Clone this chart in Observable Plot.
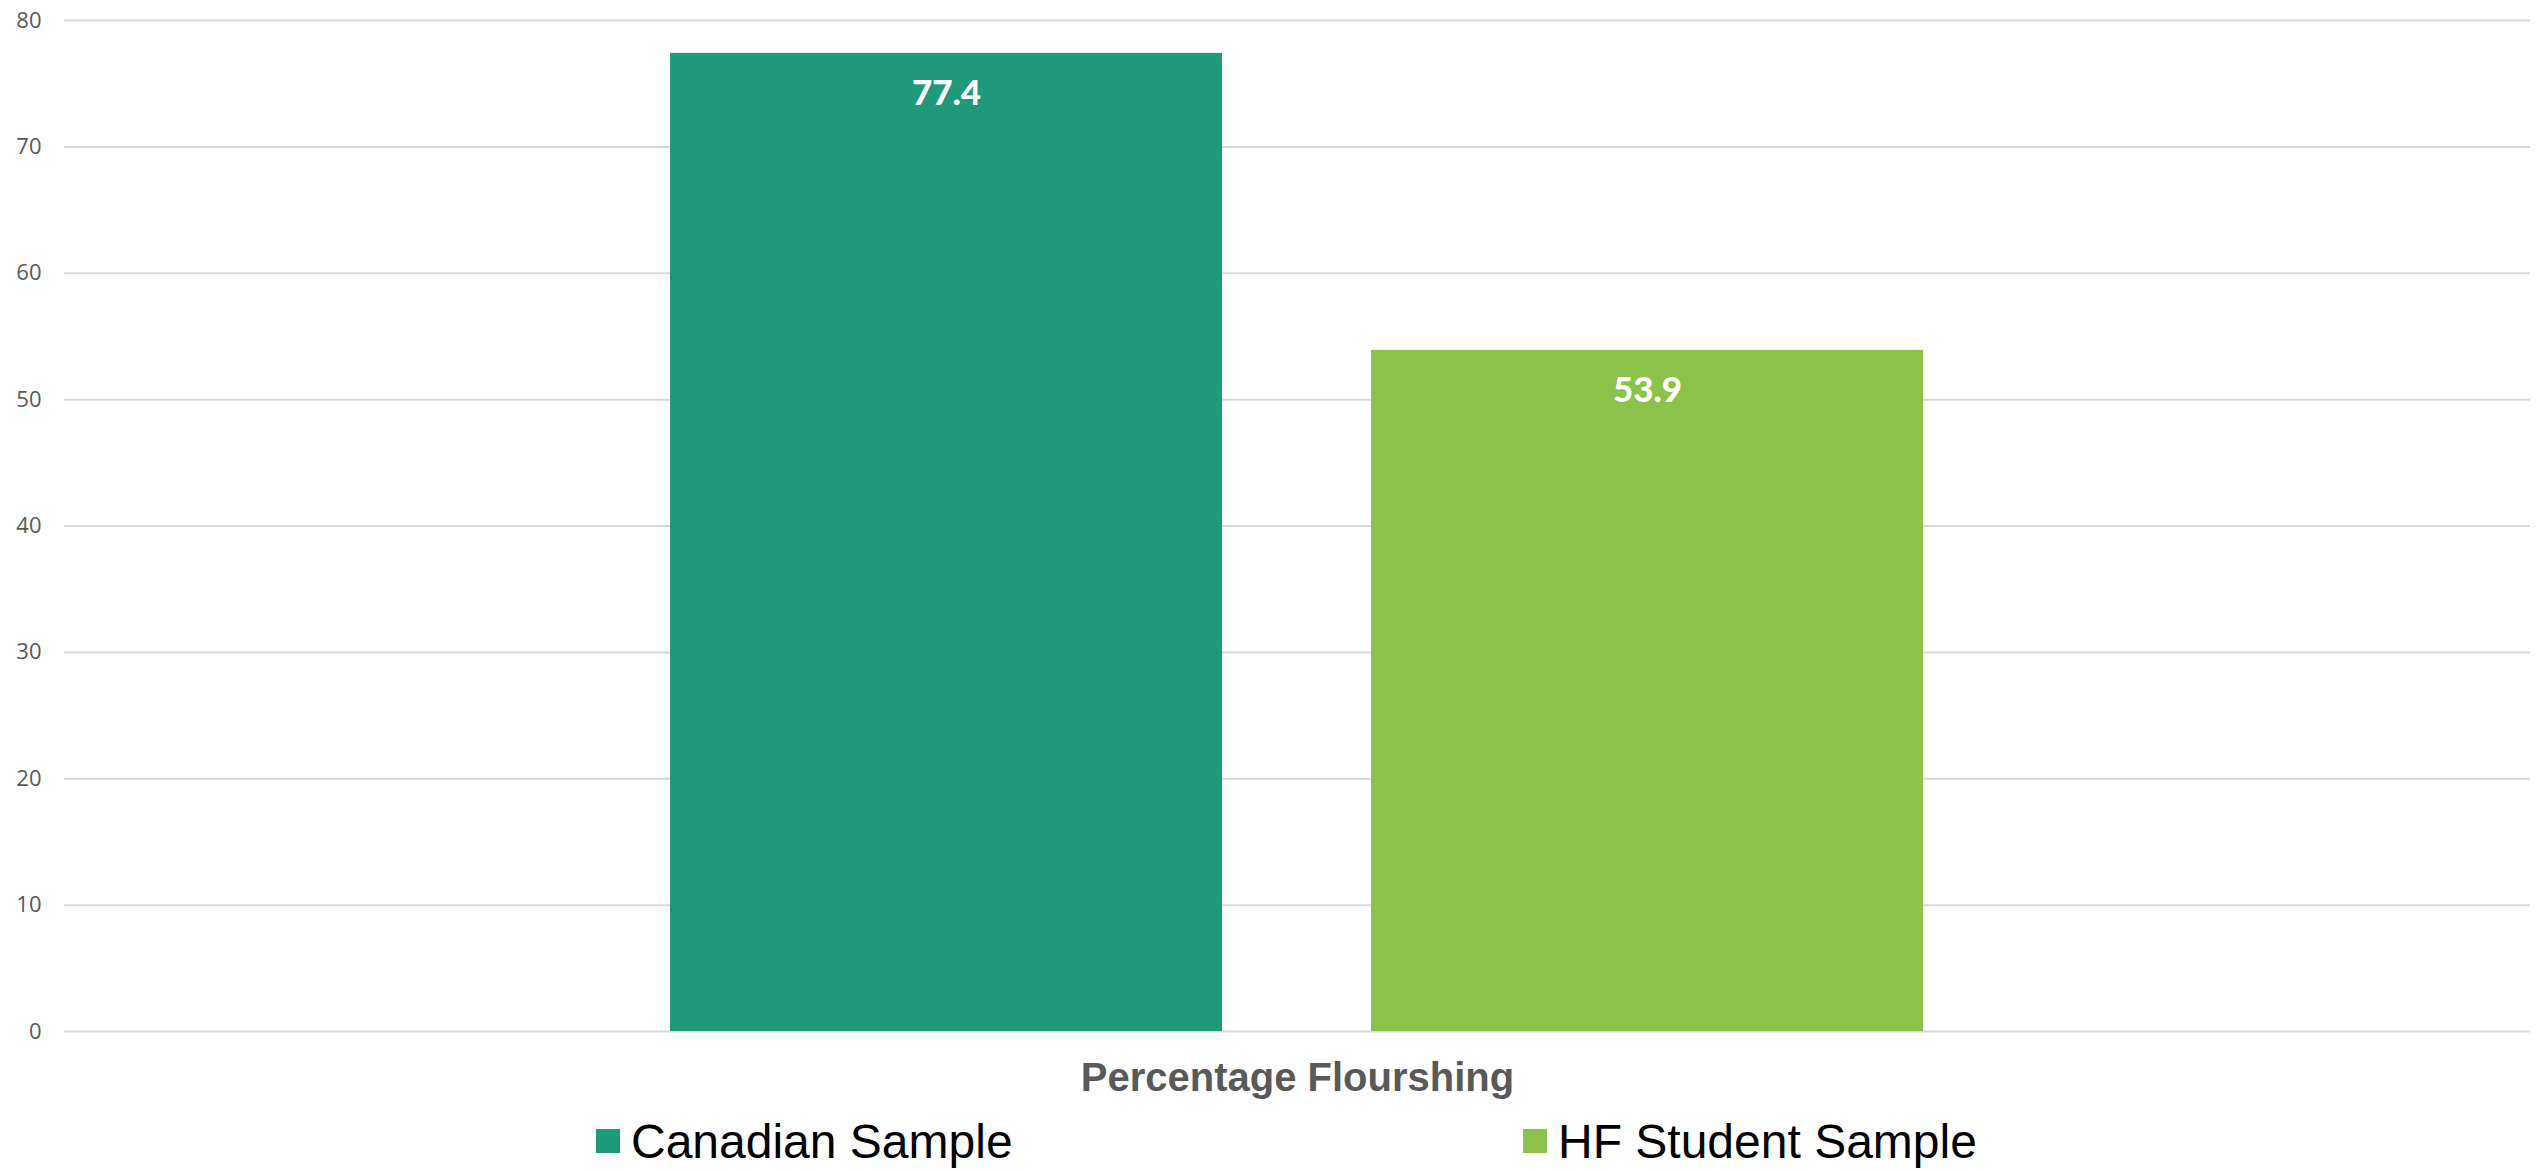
<!DOCTYPE html>
<html>
<head>
<meta charset="utf-8">
<script src="https://cdn.jsdelivr.net/npm/d3@7"></script>
<script src="https://cdn.jsdelivr.net/npm/@observablehq/plot@0.6"></script>
<style>
  html, body { margin: 0; padding: 0; background: #fff; }
  #chart svg { display: block; }
  #legend { position: relative; height: 60px; font-family: "Liberation Sans", Arial, sans-serif; font-size: 48px; color: #000; }
  .item { position: absolute; top: 0; display: flex; align-items: center; height: 60px; }
  .sw { width: 24px; height: 24px; margin-right: 11px; }
</style>
</head>
<body>
<div id="chart"></div>
<div id="legend"></div>
<script>
const category = "Percentage Flourshing";
const series = ["Canadian Sample", "HF Student Sample"];
const values = [77.4, 53.9];
const colors = ["#1e9a7a", "#8cc24a"];
const yTicks = [0, 10, 20, 30, 40, 50, 60, 70, 80];

const data = series.map((s, i) => ({category, series: s, value: values[i]}));

const W = 2539;
const chart = Plot.plot({
  width: W,
  height: 1111,
  marginLeft: 64,
  marginRight: 9,
  marginTop: 20,
  marginBottom: 80,
  style: {fontFamily: "'Liberation Sans', Arial, sans-serif", background: "#fff"},
  fx: {domain: [category], padding: 0, axis: null},
  x: {domain: series, paddingInner: 0.212, paddingOuter: 0.8625, axis: null},
  y: {domain: [0, 80], axis: null},
  color: {domain: series, range: colors},
  marks: [
    Plot.gridY(yTicks, {stroke: "#d9d9d9", strokeOpacity: 1, strokeWidth: 2}),
    Plot.axisY(yTicks, {tickSize: 0, tickPadding: 23, fontSize: 22, fontFamily: "'Open Sans', sans-serif", color: "#595959", label: null}),
    Plot.barY(data, {fx: "category", x: "series", y: "value", fill: "series"}),
    Plot.text(data, {fx: "category", x: "series", y: "value", text: d => d.value.toFixed(1), fill: "white", fontWeight: 900, fontSize: 35, fontFamily: "Lato, sans-serif", dy: 40, lineAnchor: "middle"}),
    Plot.axisFx({anchor: "bottom", tickSize: 0, tickPadding: 31, fontSize: 40, fontWeight: "bold", color: "#595959", label: null})
  ]
});
document.getElementById("chart").appendChild(chart);

const legend = document.getElementById("legend");
const lefts = [596, 1523];
series.forEach((s, i) => {
  const item = document.createElement("div");
  item.className = "item";
  item.style.left = lefts[i] + "px";
  const sw = document.createElement("span");
  sw.className = "sw";
  sw.style.background = colors[i];
  const t = document.createElement("span");
  t.textContent = s;
  item.appendChild(sw);
  item.appendChild(t);
  legend.appendChild(item);
});
</script>
</body>
</html>
